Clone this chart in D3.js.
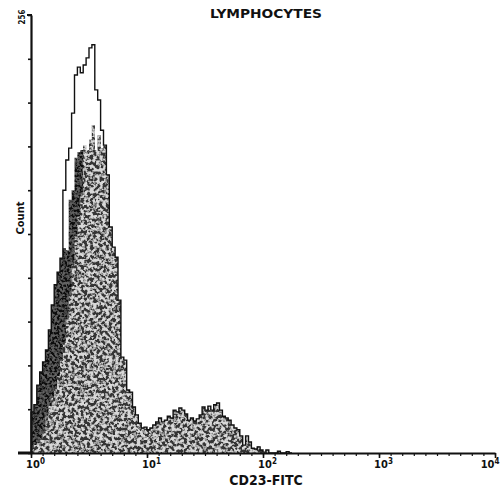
<!DOCTYPE html>
<html>
<head>
<meta charset="utf-8">
<script src="https://cdn.jsdelivr.net/npm/d3@7"></script>
<style>
  body { margin: 0; background: #fff; }
  text { font-family: "Liberation Sans Narrow", "DejaVu Sans Condensed", "Liberation Sans", sans-serif; font-weight: bold; fill: #111; }
</style>
</head>
<body>
<svg id="chart" width="500" height="488"></svg>
<script>
// channel bins, 0.025 decade each, starting at 10^0
const binWidth = 0.025;

// open (unfilled) histogram - total lymphocytes
const openHist = [
  9.4, 11.0, 15.5, 18.5, 20.8, 23.5, 28.1, 33.8, 38.4, 41.3,
  44.5, 60.0, 66.9, 69.6, 77.6, 86.3, 88.1, 86.8, 88.6, 90.2,
  92.5, 93.2, 82.9, 80.6, 73.7, 70.3, 63.5, 51.6, 47.0, 44.7,
  34.9, 21.9, 21.2, 14.4, 13.9, 10.5, 8.7, 6.8, 5.7, 5.9,
  5.3, 5.7, 6.4, 7.1, 8.0, 7.1, 7.5, 8.4, 8.0, 9.8,
  9.4, 10.3, 9.8, 8.9, 7.5, 8.0, 7.3, 7.8, 8.7, 10.5,
  9.8, 10.7, 9.8, 11.0, 11.4, 9.8, 8.4, 8.0, 7.5, 6.4,
  5.7, 5.3, 3.9, 1.8, 3.9, 2.5, 1.1, 0.9, 1.4, 0.7,
  0.2, 0.7, 0, 0, 0, 0.4, 0, 0, 0.3, 0
];

// dark filled histogram
const darkHist = [
  9.4, 11.0, 15.5, 18.5, 20.8, 23.5, 28.1, 33.8, 38.4, 41.3,
  44.5, 46.8, 46.3, 57.8, 60.0, 67.4, 68.7, 69.2, 70.3, 69.2,
  71.5, 74.9, 69.2, 72.6, 69.6, 70.3, 63.5, 51.6, 47.0, 44.7,
  34.9, 21.9, 21.2, 14.4, 13.9, 10.5, 8.7, 6.8, 5.7, 5.9,
  5.3, 5.7, 6.4, 7.1, 8.0, 7.1, 7.5, 8.4, 8.0, 9.8,
  9.4, 10.3, 9.8, 8.9, 7.5, 8.0, 7.3, 7.8, 8.7, 10.5,
  9.8, 10.7, 9.8, 11.0, 11.4, 9.8, 8.4, 8.0, 7.5, 6.4,
  5.7, 5.3, 3.9, 1.8, 3.9, 2.5, 1.1, 0.9, 1.4, 0.7,
  0.2, 0.7, 0, 0, 0, 0.4, 0, 0, 0.3, 0
];

// grey speckled histogram (CD23-FITC stained)
const greyHist = [
  1.1, 1.8, 2.4, 3.0, 4.5, 8.5, 10.8, 12.6, 14.8, 17.5,
  21.0, 25.2, 30.5, 36.0, 43.0, 49.5, 54.0, 59.0, 70.3, 69.2,
  71.5, 74.9, 69.2, 72.6, 69.6, 70.3, 63.5, 51.6, 47.0, 44.7,
  34.9, 21.9, 21.2, 14.4, 13.9, 10.5, 8.7, 6.8, 5.7, 5.9,
  5.3, 5.7, 6.4, 7.1, 8.0, 7.1, 7.5, 8.4, 8.0, 9.8,
  9.4, 10.3, 9.8, 8.9, 7.5, 8.0, 7.3, 7.8, 8.7, 10.5,
  9.8, 10.7, 9.8, 11.0, 11.4, 9.8, 8.4, 8.0, 7.5, 6.4,
  5.7, 5.3, 3.9, 1.8, 3.9, 2.5, 1.1, 0.9, 1.4, 0.7,
  0.2, 0.7, 0, 0, 0, 0.4, 0, 0, 0.3, 0
];

const decades = [1, 10, 100, 1000, 10000];
const decadeExp = ["0", "1", "2", "3", "4"];
const yTicks = [0, 10, 20, 30, 40, 50, 60, 70, 80, 90, 100];
const minorPerDecade = 10;

const title = "LYMPHOCYTES";
const xTitle = "CD23-FITC";
const yTitle = "Count";
const yTopLabel = "256";

const svg = d3.select("#chart");

const x = d3.scaleLog().domain([1, 10000]).range([31, 495]);
const y = d3.scaleLinear().domain([0, 100]).range([453, 15]);

// speckle textures for the filled histograms
const defs = svg.append("defs");
function speckle(id, freq, mix, gain, bias) {
  const f = defs.append("filter").attr("id", id)
    .attr("filterUnits", "userSpaceOnUse")
    .attr("x", 0).attr("y", 0).attr("width", 500).attr("height", 488);
  f.append("feTurbulence").attr("type", "fractalNoise")
    .attr("baseFrequency", freq).attr("numOctaves", 2).attr("seed", 7).attr("result", "n");
  f.append("feColorMatrix").attr("in", "n").attr("type", "matrix")
    .attr("values", `${gain} 0 0 0 ${bias}  ${gain} 0 0 0 ${bias}  ${gain} 0 0 0 ${bias}  0 0 0 0 1`)
    .attr("result", "g");
  f.append("feComposite").attr("in", "g").attr("in2", "SourceGraphic")
    .attr("operator", "in").attr("result", "t");
  f.append("feComposite").attr("in", "t").attr("in2", "SourceGraphic")
    .attr("operator", "arithmetic").attr("k1", 0).attr("k2", mix).attr("k3", 1 - mix).attr("k4", 0);
}
speckle("speckGrey", 0.32, 0.65, 5, -2.1);
speckle("speckDark", 0.4, 0.12, 4, -1.6);

// turn bin counts into step points
function steps(vals) {
  const pts = vals.map((v, i) => [Math.pow(10, i * binWidth), v]);
  pts.push([Math.pow(10, vals.length * binWidth), 0]);
  return pts;
}

const area = d3.area()
  .x(d => x(d[0]))
  .y0(y(0))
  .y1(d => y(d[1]))
  .curve(d3.curveStepAfter);

const line = d3.line()
  .x(d => x(d[0]))
  .y(d => y(d[1]))
  .curve(d3.curveStepAfter);

svg.append("path")
  .attr("d", area(steps(darkHist)))
  .attr("fill", "#0c0c0c")
  .attr("filter", "url(#speckDark)");

svg.append("path")
  .attr("d", area(steps(greyHist)))
  .attr("fill", "#5a5a5a")
  .attr("filter", "url(#speckGrey)");

const openPts = [[1, 0]].concat(steps(openHist));
svg.append("path")
  .attr("d", line(openPts))
  .attr("fill", "none")
  .attr("stroke", "#111")
  .attr("stroke-width", 1.4);

// y axis
const yAxis = svg.append("g")
  .attr("transform", `translate(${x(1)},0)`)
  .call(d3.axisLeft(y).tickValues(yTicks).tickSize(3).tickSizeOuter(0).tickFormat(""));
yAxis.select(".domain").attr("stroke-width", 2.2).attr("stroke", "#111");
yAxis.selectAll(".tick line").attr("stroke-width", 1.6).attr("stroke", "#111");
// small hook at the top of the axis
svg.append("line").attr("x1", x(1) - 4).attr("x2", x(1) + 1)
  .attr("y1", y(100)).attr("y2", y(100)).attr("stroke", "#111").attr("stroke-width", 2);

// x axis: minor ticks
const minorVals = d3.range(0, 4 * minorPerDecade + 1).map(k => Math.pow(10, k / minorPerDecade));
const xMinor = svg.append("g")
  .attr("transform", `translate(0,${y(0)})`)
  .call(d3.axisBottom(x).tickValues(minorVals).tickSize(3).tickSizeOuter(0).tickFormat(""));
xMinor.select(".domain").attr("stroke-width", 2).attr("stroke", "#111");
xMinor.selectAll(".tick line").attr("stroke-width", 1.2).attr("stroke", "#111");

// x axis: decades with labels
const xMajor = svg.append("g")
  .attr("transform", `translate(0,${y(0)})`)
  .call(d3.axisBottom(x).tickValues(decades).tickSize(5).tickSizeOuter(0).tickFormat(""));
xMajor.select(".domain").remove();
xMajor.selectAll(".tick line").attr("stroke-width", 1.6).attr("stroke", "#111");
xMajor.selectAll(".tick").each(function (d, i) {
  const last = i === decades.length - 1;
  const t = d3.select(this).append("text")
    .attr("x", 4).attr("y", 15)
    .attr("text-anchor", last ? "end" : "middle")
    .style("font-size", "11px");
  t.append("tspan").text("10");
  t.append("tspan").attr("dy", -4).style("font-size", "8px").text(decadeExp[i]);
});

// baseline stub left of the axis
svg.append("line").attr("x1", 18).attr("x2", x(1))
  .attr("y1", y(0)).attr("y2", y(0)).attr("stroke", "#111").attr("stroke-width", 3);

// titles
svg.append("text")
  .attr("x", 266).attr("y", 18)
  .attr("text-anchor", "middle")
  .attr("textLength", 112).attr("lengthAdjust", "spacingAndGlyphs")
  .style("font-size", "13px")
  .text(title);

svg.append("text")
  .attr("x", 266).attr("y", 485)
  .attr("text-anchor", "middle")
  .style("font-size", "14px")
  .text(xTitle);

svg.append("text")
  .attr("transform", "translate(24,218) rotate(-90)")
  .attr("text-anchor", "middle")
  .style("font-size", "11px")
  .text(yTitle);

svg.append("text")
  .attr("transform", "translate(25,17) rotate(-90)")
  .attr("text-anchor", "middle")
  .style("font-size", "8px")
  .text(yTopLabel);
</script>
</body>
</html>
